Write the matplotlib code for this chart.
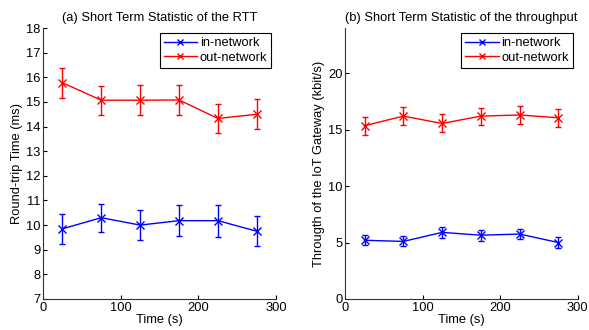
import matplotlib.pyplot as plt
from matplotlib.lines import Line2D

plt.rcParams['font.family'] = ['Liberation Sans', 'DejaVu Sans']
plt.rcParams['font.size'] = 9.3

t = [25, 75, 125, 175, 225, 275]

# RTT (ms)
rtt_in = [9.85, 10.3, 10.0, 10.18, 10.18, 9.75]
rtt_in_err = [0.6, 0.57, 0.6, 0.62, 0.65, 0.6]
rtt_out = [15.78, 15.07, 15.07, 15.08, 14.33, 14.5]
rtt_out_err = [0.6, 0.58, 0.6, 0.6, 0.6, 0.6]

# throughput (kbit/s)
thr_in = [5.2, 5.1, 5.9, 5.65, 5.75, 5.0]
thr_in_err = [0.45, 0.45, 0.5, 0.5, 0.45, 0.5]
thr_out = [15.35, 16.2, 15.55, 16.2, 16.3, 16.05]
thr_out_err = [0.8, 0.8, 0.8, 0.75, 0.8, 0.8]

fig = plt.figure(figsize=(5.89, 3.3), dpi=100)
ax1 = fig.add_axes([0.073, 0.094, 0.396, 0.821])
ax2 = fig.add_axes([0.586, 0.094, 0.395, 0.821])


def draw(ax, yin, ein, yout, eout):
    ax.errorbar(t, yin, yerr=ein, color='b', marker='x', ms=6, lw=1,
                capsize=2, elinewidth=1)
    ax.errorbar(t, yout, yerr=eout, color='r', marker='x', ms=6, lw=1,
                capsize=2, elinewidth=1)
    ax.set_xlim(0, 300)
    ax.set_xticks([0, 100, 200, 300])
    ax.spines['top'].set_visible(False)
    ax.spines['right'].set_visible(False)
    for s in ax.spines.values():
        s.set_color('#333333')
    ax.tick_params(direction='in', length=3, pad=2)
    ax.set_xlabel('Time (s)', labelpad=0)
    handles = [Line2D([], [], color='b', marker='x', ms=5, lw=1),
               Line2D([], [], color='r', marker='x', ms=5, lw=1)]
    leg = ax.legend(handles, ['in-network', 'out-network'], loc='upper right',
                    fancybox=False, edgecolor='k', framealpha=1,
                    borderpad=0.3, handlelength=2.6, handletextpad=0.2,
                    labelspacing=0.2, borderaxespad=0.4)
    leg.get_frame().set_linewidth(0.8)


draw(ax1, rtt_in, rtt_in_err, rtt_out, rtt_out_err)
ax1.set_ylim(7, 18)
ax1.set_yticks(range(7, 19))
ax1.set_ylabel('Round-trip Time (ms)', labelpad=2)
ax1.set_title('(a) Short Term Statistic of the RTT', fontsize=9.3, pad=5)

draw(ax2, thr_in, thr_in_err, thr_out, thr_out_err)
ax2.set_ylim(0, 24)
ax2.set_yticks([0, 5, 10, 15, 20])
ax2.set_ylabel('Througth of the IoT Gateway (kbit/s)', labelpad=2)
ax2.set_title('(b) Short Term Statistic of the throughput', fontsize=9.3, pad=5)

fig.savefig('out.png', dpi=100)
